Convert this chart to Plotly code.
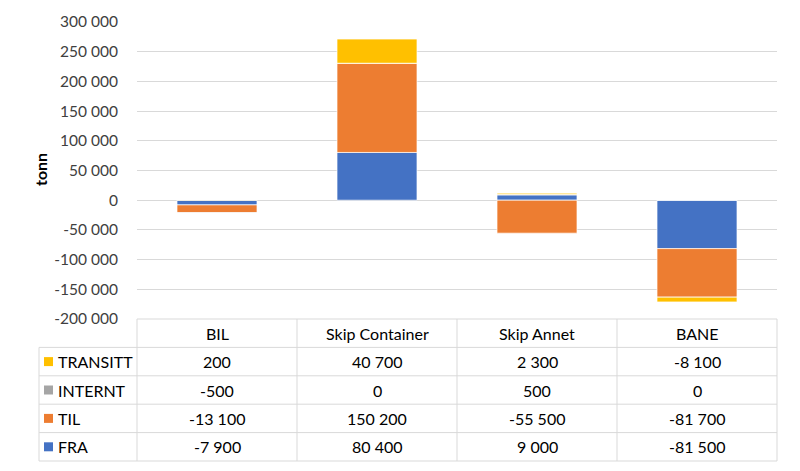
import plotly.graph_objects as go

categories = ["BIL", "Skip Container", "Skip Annet", "BANE"]
series_names = ["FRA", "TIL", "INTERNT", "TRANSITT"]
fra = [-7900, 80400, 9000, -81500]
til = [-13100, 150200, -55500, -81700]
internt = [-500, 0, 500, 0]
transitt = [200, 40700, 2300, -8100]
colors = {"FRA": "#4472C4", "TIL": "#ED7D31", "INTERNT": "#A5A5A5", "TRANSITT": "#FFC000"}
values = {"FRA": fra, "TIL": til, "INTERNT": internt, "TRANSITT": transitt}
table_rows = ["TRANSITT", "INTERNT", "TIL", "FRA"]
y_ticks = list(range(-200000, 300001, 50000))

# the page body adds an 8px offset, so the figure box is shifted back by that
OFF = 8
W, H = 800, 471
ML, MT = 137 - OFF, 22 - OFF
plot_w = 640
MR = W - ML - plot_w
MB = H - (461 - OFF)
plot_h = H - MT - MB
row_h = 28.4
n_rows = len(table_rows) + 1
table_h = n_rows * row_h / plot_h  # paper units
legend_left = (39 - OFF - ML) / plot_w
grid = "#D9D9D9"
font = "Lato, 'Open Sans', sans-serif"
txt = dict(size=16, color="#000000", family=font)


def fmt(v):
    return f"{v:,}".replace(",", " ")


fig = go.Figure()
for name in series_names:
    fig.add_trace(go.Bar(x=categories, y=values[name], name=name,
                         marker=dict(color=colors[name], line=dict(color="white", width=0.7)),
                         width=0.5))

shapes = []
annotations = []
row_step = row_h / plot_h

# horizontal table lines
for i in range(n_rows + 1):
    y = table_h - i * row_step
    x0 = 0 if i == 0 else legend_left
    shapes.append(dict(type="line", xref="paper", yref="paper", x0=x0, x1=1, y0=y, y1=y,
                       line=dict(color=grid, width=1)))
# vertical table lines
for j in range(len(categories) + 1):
    x = j / len(categories)
    shapes.append(dict(type="line", xref="paper", yref="paper", x0=x, x1=x, y0=0, y1=table_h,
                       line=dict(color=grid, width=1)))
shapes.append(dict(type="line", xref="paper", yref="paper", x0=legend_left, x1=legend_left,
                   y0=0, y1=table_h - row_step, line=dict(color=grid, width=1)))

# header row
for c in categories:
    annotations.append(dict(x=c, xref="x", xanchor="center", y=table_h - row_step / 2, yref="paper",
                            yanchor="middle", text=c, showarrow=False, font=txt))

# data rows
for r, name in enumerate(table_rows):
    yc = table_h - (r + 1.5) * row_step
    sq_w = 9 / plot_w
    sq_h = 9 / plot_h
    sx = legend_left + 5 / plot_w
    shapes.append(dict(type="rect", xref="paper", yref="paper", x0=sx, x1=sx + sq_w,
                       y0=yc - sq_h / 2, y1=yc + sq_h / 2, fillcolor=colors[name], line=dict(width=0)))
    annotations.append(dict(x=sx + sq_w + 3 / plot_w, xref="paper", xanchor="left", y=yc, yref="paper",
                            yanchor="middle", text=name, showarrow=False, font=txt))
    for c, v in zip(categories, values[name]):
        annotations.append(dict(x=c, xref="x", xanchor="center", y=yc, yref="paper", yanchor="middle",
                                text=fmt(v), showarrow=False, font=txt))

# y axis title
annotations.append(dict(x=(40 - OFF - ML) / plot_w, xref="paper", xanchor="center",
                        y=(461 - 170) / plot_h, yref="paper", yanchor="middle",
                        text="<b>tonn</b>", textangle=-90, showarrow=False, font=txt))

fig.update_layout(
    barmode="relative",
    width=W, height=H, autosize=False,
    margin=dict(l=ML, r=MR, t=MT, b=MB),
    plot_bgcolor="white", paper_bgcolor="white",
    showlegend=False,
    shapes=shapes,
    annotations=annotations,
    font=dict(family=font),
)
fig.update_xaxes(showticklabels=False, showgrid=False, showline=False, zeroline=False,
                 range=[-0.5, len(categories) - 0.5], automargin=False)
fig.update_yaxes(domain=[table_h, 1], range=[-200000, 300000], tickvals=y_ticks,
                 ticktext=[fmt(v) for v in y_ticks], showgrid=True, gridcolor=grid, gridwidth=1,
                 zeroline=True, zerolinecolor=grid, zerolinewidth=1, showline=False,
                 ticks="outside", ticklen=15, tickcolor="rgba(0,0,0,0)", automargin=False,
                 tickfont=dict(size=15.5, color="#404040", family=font))

fig.write_html("out.html")
